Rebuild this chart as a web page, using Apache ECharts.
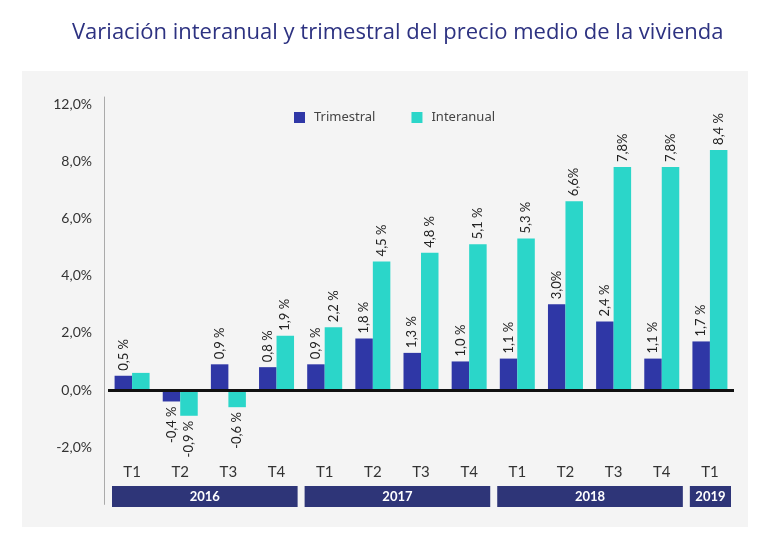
<!DOCTYPE html>
<html>
<head>
<meta charset="utf-8">
<title>Variación interanual y trimestral del precio medio de la vivienda</title>
<script src="https://cdn.jsdelivr.net/npm/echarts@6/dist/echarts.min.js"></script>
<style>
    html, body { margin: 0; padding: 0; background: #fff; }
    #main { width: 768px; height: 535px; }
</style>
</head>
<body>
<div id="main"></div>
<script>
    // datos
    var quarters = ['T1', 'T2', 'T3', 'T4', 'T1', 'T2', 'T3', 'T4', 'T1', 'T2', 'T3', 'T4', 'T1'];
    var trimestral = [0.5, -0.4, 0.9, 0.8, 0.9, 1.8, 1.3, 1.0, 1.1, 3.0, 2.4, 1.1, 1.7];
    var interanual = [0.6, -0.9, -0.6, 1.9, 2.2, 4.5, 4.8, 5.1, 5.3, 6.6, 7.8, 7.8, 8.4];
    var trimestralLabels = ['0,5 %', '-0,4 %', '0,9 %', '0,8 %', '0,9 %', '1,8 %', '1,3 %', '1,0 %', '1,1 %', '3,0%', '2,4 %', '1,1 %', '1,7 %'];
    var interanualLabels = ['', '-0,9 %', '-0,6 %', '1,9 %', '2,2 %', '4,5 %', '4,8 %', '5,1 %', '5,3 %', '6,6%', '7,8%', '7,8%', '8,4 %'];
    var years = ['2016', '2017', '2018', '2019'];
    var yearStart = [0, 4, 8, 12];
    var yearEnd = [3, 7, 11, 12];
    var yTickValues = [-2, 0, 2, 4, 6, 8, 10];
    var yTickLabels = ['-2,0%', '0,0%', '2,0%', '4,0%', '6,0%', '8,0%', '12,0%'];

    var C_TRI = '#2f37a6';
    var C_INT = '#2bd6c9';
    var C_YEAR = '#2e3578';

    function barItems(values, labels) {
        return values.map(function (v, i) {
            var neg = v < 0;
            return {
                value: v,
                label: {
                    show: labels[i] !== '',
                    formatter: labels[i],
                    position: neg ? 'bottom' : 'top',
                    align: neg ? 'right' : 'left'
                }
            };
        });
    }

    var barLabel = {
        rotate: 90,
        verticalAlign: 'middle',
        distance: 5,
        fontFamily: 'Lato',
        fontSize: 13,
        color: '#222'
    };

    var myChart = echarts.init(document.getElementById('main'));

    var option = {
        backgroundColor: '#fff',
        animation: false,
        graphic: [{
            type: 'rect',
            z: -10,
            shape: { x: 22, y: 71, width: 726, height: 456 },
            style: { fill: '#f4f4f4' }
        }],
        title: {
            text: 'Variación interanual y trimestral del precio medio de la vivienda',
            left: 67,
            top: 17,
            textStyle: {
                fontFamily: 'Open Sans',
                fontWeight: 'normal',
                fontSize: 22,
                color: '#2d3281'
            }
        },
        legend: {
            left: 289,
            top: 106,
            itemWidth: 11,
            itemHeight: 11,
            itemGap: 36,
            icon: 'rect',
            textStyle: {
                fontFamily: 'Noto Sans',
                fontSize: 13,
                color: '#444',
                padding: [0, 0, 0, 4]
            },
            data: ['Trimestral', 'Interanual']
        },
        grid: [
            { left: 108, right: 34, top: 97, bottom: 30.6 },
            { left: 108, right: 34, top: 486, height: 21 }
        ],
        xAxis: [
            {
                type: 'category',
                gridIndex: 0,
                data: quarters,
                position: 'bottom',
                offset: -40,
                axisLine: { show: false },
                axisTick: { show: false },
                axisLabel: {
                    margin: 0,
                    fontFamily: 'Lato',
                    fontSize: 15,
                    color: '#333'
                }
            },
            {
                type: 'category',
                gridIndex: 1,
                data: quarters,
                show: false
            }
        ],
        yAxis: [
            {
                type: 'value',
                gridIndex: 0,
                min: -4,
                max: 10.25,
                interval: 2,
                offset: 4,
                splitLine: { show: false },
                axisTick: { show: false },
                axisLine: { show: true, lineStyle: { color: '#aaa', width: 1 } },
                axisLabel: {
                    margin: 12,
                    fontFamily: 'Lato',
                    fontSize: 14,
                    color: '#333',
                    formatter: function (v) {
                        var k = yTickValues.indexOf(v);
                        return k < 0 ? '' : yTickLabels[k];
                    }
                }
            },
            {
                type: 'value',
                gridIndex: 1,
                min: 0,
                max: 1,
                show: false
            }
        ],
        series: [
            {
                name: 'Trimestral',
                type: 'bar',
                barWidth: 17.5,
                barGap: '0%',
                itemStyle: { color: C_TRI },
                label: barLabel,
                data: barItems(trimestral, trimestralLabels),
                markLine: {
                    silent: true,
                    symbol: 'none',
                    label: { show: false },
                    lineStyle: { color: '#111', width: 3, type: 'solid' },
                    data: [{ yAxis: 0 }]
                }
            },
            {
                name: 'Interanual',
                type: 'bar',
                barWidth: 17.5,
                barGap: '0%',
                itemStyle: { color: C_INT },
                label: barLabel,
                data: barItems(interanual, interanualLabels)
            },
            {
                // franjas de los años
                type: 'custom',
                xAxisIndex: 1,
                yAxisIndex: 1,
                silent: true,
                data: years.map(function (y, i) { return [yearStart[i], yearEnd[i]]; }),
                renderItem: function (params, api) {
                    var bw = api.size([1, 0])[0];
                    var a = api.coord([api.value(0), 1]);
                    var b = api.coord([api.value(1), 0]);
                    var x0 = a[0] - bw / 2 + 4;
                    var x1 = b[0] + bw / 2 - 3;
                    return {
                        type: 'group',
                        children: [{
                            type: 'rect',
                            shape: { x: x0, y: a[1], width: x1 - x0, height: b[1] - a[1] },
                            style: { fill: C_YEAR }
                        }, {
                            type: 'text',
                            style: {
                                text: years[params.dataIndex],
                                x: (x0 + x1) / 2,
                                y: (a[1] + b[1]) / 2,
                                align: 'center',
                                verticalAlign: 'middle',
                                fill: '#fff',
                                fontFamily: 'Lato',
                                fontWeight: 'bold',
                                fontSize: 13
                            }
                        }]
                    };
                }
            }
        ]
    };

    myChart.setOption(option);
</script>
</body>
</html>
